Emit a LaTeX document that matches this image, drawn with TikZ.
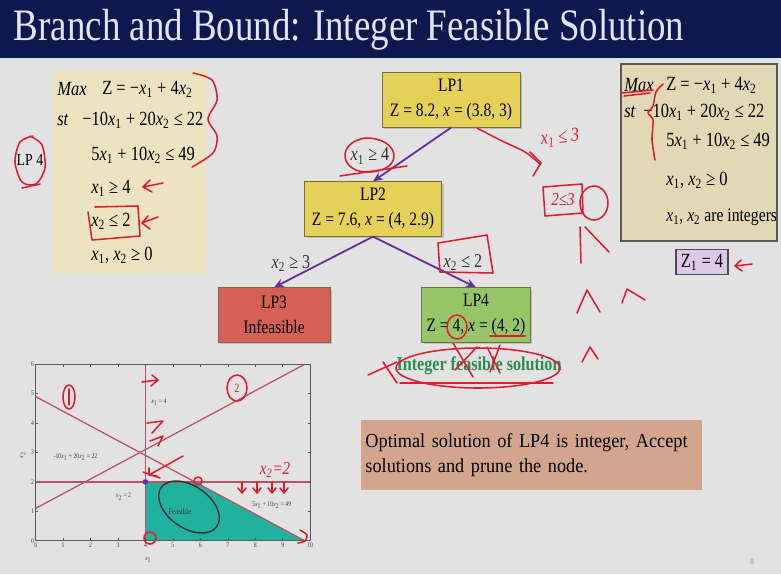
\documentclass[tikz,border=0pt]{standalone}
\usepackage{fontspec}
\setmainfont{Liberation Serif}[FakeStretch=0.82]
\newfontfamily\notefont{Liberation Serif}[FakeStretch=0.92]
\usepackage{tikz}
\usetikzlibrary{arrows.meta, positioning, shadows}

\definecolor{titlebg}{RGB}{13,24,78}
\definecolor{slidebg}{RGB}{226,226,226}
\definecolor{khaki}{RGB}{236,227,193}
\definecolor{khakidk}{RGB}{226,216,180}
\definecolor{lpyellow}{RGB}{229,209,88}
\definecolor{lpred}{RGB}{214,96,86}
\definecolor{lpgreen}{RGB}{150,198,104}
\definecolor{lpborder}{RGB}{120,110,60}
\definecolor{branchcol}{RGB}{105,45,160}
\definecolor{intgreen}{RGB}{45,140,80}
\definecolor{notebg}{RGB}{211,165,141}
\definecolor{lavender}{RGB}{221,200,232}
\definecolor{plotline}{RGB}{188,82,104}
\definecolor{feasteal}{RGB}{32,178,158}
\definecolor{pen}{RGB}{222,30,48}

\newcommand{\xs}[1]{\textit{x}\textsubscript{#1}}

\begin{document}
\begin{tikzpicture}[x=0.025cm, y=-0.025cm,
    lpbox/.style={rectangle, draw=lpborder, line width=0.6pt, minimum height=1.36cm, align=center, font=\fontsize{13.5}{17.5}\selectfont, drop shadow={opacity=0.35, shadow xshift=1.5pt, shadow yshift=-1.5pt}},
    eqn/.style={anchor=west, inner sep=0pt, font=\fontsize{14.3}{16}\selectfont},
    branch/.style={-{Stealth[length=7pt, width=6pt]}, draw=branchcol, line width=1.3pt},
    brlab/.style={font=\fontsize{14}{16}\selectfont, text=black!80},
    axlab/.style={font=\fontsize{5}{6}\selectfont, text=black!75, inner sep=1pt},
    pen/.style={draw=pen, line width=1.1pt, line cap=round, line join=round},
    penlab/.style={text=pen, font=\fontsize{13}{14}\selectfont\itshape}
  ]
  % Slide and title
  \fill[slidebg] (0,0) rectangle (781,574);
  \useasboundingbox (0,0) rectangle (781,574);
  \fill[titlebg] (0,0) rectangle (781,58);
  \draw[white!75!gray, line width=1pt] (0,59.5) -- (781,59.5);
  \node[anchor=west, text=white!90!blue, font=\fontsize{32}{34}\selectfont] (title) at (9,30) {Branch and Bound: Integer Feasible Solution};

  % LP4 subproblem
  \node[font=\fontsize{12}{13}\selectfont] (lpfourtag) at (30,160) {LP 4};
  \node[fill=khaki, minimum width=3.85cm, minimum height=5.1cm] (subbox) at (130,172) {};
  \node[eqn] (smax) at (57,89) {\textit{Max}};
  \node[eqn] (sobj) at (102,89) {Z = −\xs1 + 4\xs2};
  \node[eqn] (sst) at (57,120) {\textit{st}};
  \node[eqn] (scona) at (82,120) {−10\xs1 + 20\xs2 ≤ 22};
  \node[eqn] (sconb) at (91,155) {5\xs1 + 10\xs2 ≤ 49};
  \node[eqn] (sconc) at (91,188) {\xs1 ≥ 4};
  \node[eqn] (scond) at (91,221) {\xs2 ≤ 2};
  \node[eqn] (scone) at (91,255) {\xs1, \xs2 ≥ 0};

  % Original problem
  \node[draw=black!65, line width=0.9pt, fill=khakidk, minimum width=3.9cm, minimum height=4.42cm] (mainbox) at (699,152.5) {};
  \node[eqn] (mmax) at (624,85) {\textit{Max}};
  \node[eqn] (mobj) at (666,85) {Z = −\xs1 + 4\xs2};
  \node[eqn] (mst) at (624,112) {\textit{st}};
  \node[eqn] (mcona) at (643,112) {−10\xs1 + 20\xs2 ≤ 22};
  \node[eqn] (mconb) at (666,141) {5\xs1 + 10\xs2 ≤ 49};
  \node[eqn] (mconc) at (666,180) {\xs1, \xs2 ≥ 0};
  \node[eqn, font=\fontsize{13.6}{16}\selectfont] (mcond) at (666,217) {\xs1, \xs2 are integers};
  \node[draw=black!70, line width=0.9pt, fill=lavender, minimum width=1.3cm, minimum height=0.58cm, font=\fontsize{14.3}{16}\selectfont] (zbest) at (702,262) {Z\textsubscript{1} = 4};

  % Tree
  \node[lpbox, fill=lpyellow, minimum width=3.45cm] (lp1) at (451,100) {LP1\\Z = 8.2, \textit{x} = (3.8, 3)};
  \node[lpbox, fill=lpyellow, minimum width=3.42cm] (lp2) at (373,209) {LP2\\Z = 7.6, \textit{x} = (4, 2.9)};
  \node[lpbox, fill=lpred, minimum width=2.8cm] (lp3) at (274,315) {LP3\\Infeasible};
  \node[lpbox, fill=lpgreen, minimum width=2.7cm] (lp4) at (476,315) {LP4\\Z = 4, \textit{x} = (4, 2)};
  \draw[branch] (lp1.south) -- (lp2.north);
  \draw[branch] (lp2.south) -- (lp3.north);
  \draw[branch] (lp2.south) -- (lp4.north);
  \node[brlab] (cutA) at (370,156) {\xs1 ≥ 4};
  \node[brlab] (cutB) at (291,263) {\xs2 ≥ 3};
  \node[brlab] (cutC) at (463,262) {\xs2 ≤ 2};
  \node[text=intgreen, font=\fontsize{14}{16}\selectfont\bfseries] (intsol) at (479,366) {Integer feasible solution};

  % Note
  \node[fill=notebg, minimum width=8.52cm, minimum height=1.74cm, text width=8.3cm, align=left, font=\notefont\fontsize{14.1}{18}\selectfont] (note) at (531.5,455) {Optimal solution of LP4 is integer, Accept\\solutions and prune the node.};
  \node[text=black!45, font=\fontsize{6}{7}\selectfont] (pagenum) at (752,562) {8};

  % Graph
  \begin{scope}[shift={(35.7,540.7)}, x=0.686cm, y=0.735cm]
    \fill[feasteal] (4,0) -- (4,2) -- (5.8,2) -- (9.8,0) -- cycle;
    \draw[plotline, line width=0.9pt] (0,1.1) -- (9.8,6);
    \draw[plotline, line width=0.9pt] (0,4.9) -- (9.8,0);
    \draw[plotline, line width=0.9pt] (4,0) -- (4,6);
    \draw[plotline, line width=0.9pt] (0,2) -- (10,2);
    \draw[black!65, line width=0.6pt] (0,0) rectangle (10,6);
    \foreach \i in {0,...,10} {
      \draw[black!65, line width=0.4pt] (\i,0) -- (\i,0.08) (\i,6) -- (\i,5.92);
      \node[axlab, below] (xt\i) at (\i,0) {\i};
    }
    \foreach \j in {0,...,6} {
      \draw[black!65, line width=0.4pt] (0,\j) -- (0.08,\j) (10,\j) -- (9.92,\j);
      \node[axlab, left] (yt\j) at (0,\j) {\j};
    }
    \node[axlab] (xaxis) at (4.1,-0.65) {\xs1};
    \node[axlab, rotate=90] (yaxis) at (-0.48,2.9) {\xs2};
    \node[axlab, anchor=west] (lblA) at (4.15,4.72) {\xs1 = 4};
    \node[axlab] (lblB) at (1.45,2.85) {-10\xs1 + 20\xs2 = 22};
    \node[axlab] (lblC) at (3.2,1.5) {\xs2 = 2};
    \node[axlab] (lblD) at (8.6,1.22) {5\xs1 + 10\xs2 = 49};
    \node[axlab, font=\fontsize{6}{7}\selectfont] (lblE) at (5.25,1.0) {Feasible};
    \fill[branchcol] (4,2) circle (2pt);
  \end{scope}

  % Pen marks
  \draw[pen] plot[smooth] coordinates {(193,73) (212,80) (217,100) (208,119) (217,136) (213,153) (192,167)};
  \draw[pen] plot[smooth] coordinates {(33,136) (20,142) (15,162) (22,182) (36,184) (45,168) (42,145) (30,136)};
  \draw[pen] (22,188) -- (40,184);
  \draw[pen] (163,183) -- (143,187) (150,180) -- (143,187) -- (152,192);
  \draw[pen] (95,207) -- (138,206) -- (140,236) -- (92,240) -- (88,212);
  \draw[pen] (158,217) -- (142,223) (148,216) -- (142,223) -- (150,229);
  \draw[pen] (366,138) .. controls (400,138) and (405,170) .. (370,172) .. controls (340,174) and (335,142) .. (366,138);
  \draw[pen] (340,176) -- (407,166);
  \draw[pen] plot[smooth] coordinates {(477,128) (500,140) (525,152) (540,164)};
  \draw[pen] (530,152) -- (541,163) -- (533,176);
  \node[penlab, rotate=6, font=\fontsize{14}{15}\selectfont\itshape] (penA) at (560,138) {\xs1 ≤ 3};
  \draw[pen] (543,187) -- (582,184) -- (583,213) -- (545,216) -- cycle;
  \node[penlab] (penB) at (563,200) {2≤3};
  \draw[pen] (594,203) ellipse (14 and 17);
  \draw[pen] (580,227) -- (581,263) (585,227) -- (609,252);
  \draw[pen] (577,313) -- (587,290) -- (600,312);
  \draw[pen] (622,303) -- (627,289) -- (645,300);
  \draw[pen] (582,362) -- (590,347) -- (598,359);
  \draw[pen] (438,243) -- (487,235) -- (493,273) -- (440,272) -- cycle;
  \draw[pen] (457,327) ellipse (10 and 12);
  \draw[pen] (490,336) -- (525,336);
  \draw[pen] (478,368) ellipse (82 and 20);
  \draw[pen] (400,383) -- (553,383);
  \draw[pen] (453,343) -- (473,377) (455,370) -- (477,347);
  \draw[pen] (487,347) -- (500,373) (490,372) -- (500,345);
  \draw[pen] (368,375) -- (397,362) (383,362) -- (397,383);
  \draw[pen] (622,93) -- (653,90) (624,96) -- (650,93);
  \draw[pen] plot[smooth] coordinates {(663,84) (656,92) (653,106) (648,113) (653,120) (652,140) (655,160)};
  \draw[pen] (752,264) -- (735,266) (741,260) -- (735,266) -- (742,271);

  % Pen marks on graph
  \draw[pen] (69,397) ellipse (6 and 12);
  \draw[pen] (69,389) -- (69,405);
  \draw[pen] (237,388) ellipse (10 and 13);
  \node[penlab, font=\fontsize{9}{10}\selectfont] (penC) at (237,388) {2};
  \draw[pen] (142,382) -- (158,380) (152,375) -- (158,380) -- (151,386);
  \draw[pen] (147,423) -- (163,421) -- (152,433) (150,441) -- (163,436) -- (158,446);
  \draw[pen] (183,456) -- (149,475) (149,468) -- (149,475) -- (157,476);
  \draw[pen] (143,472) -- (160,478);
  \draw[pen] (198,481) circle (4);
  \draw[pen] (150,538) circle (6);
  \draw[pen] plot[smooth] coordinates {(300,530) (307,535) (305,541) (298,543)};
  \node[penlab] (penD) at (275,470) {\xs2=2};
  \foreach \k in {242,257,272,284} {
    \draw[pen] (\k,482) -- (\k,493) (\k-4,488) -- (\k,493) -- (\k+4,488);
  }
  \draw[black!80, line width=1pt, rotate around={-35:(189,507)}] (189,507) ellipse (34 and 21);
\end{tikzpicture}
\end{document}
